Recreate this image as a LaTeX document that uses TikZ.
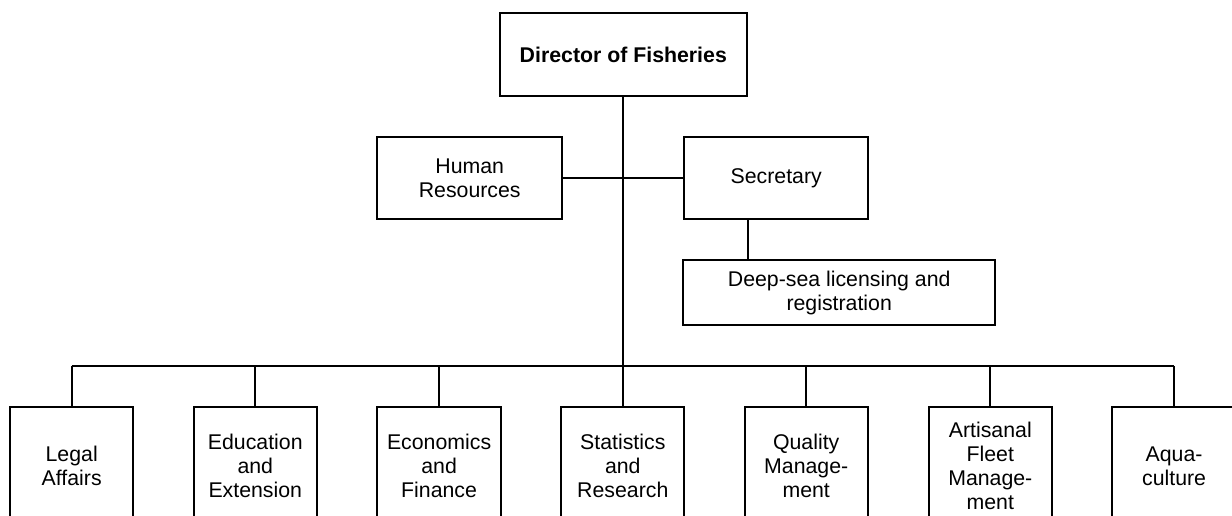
\documentclass[tikz,border=0pt]{standalone}
\usepackage{fontspec}
\setmainfont{Liberation Sans}
\begin{document}
\begin{tikzpicture}[x=1pt,y=-1pt,
  box/.style={draw, line width=2pt, inner sep=0pt, align=center,
    font=\fontsize{21.3}{24}\selectfont},
  lowbox/.style={box, minimum width=123.3pt, minimum height=118.3pt},
  link/.style={line width=2pt}]
\useasboundingbox (0,0) rectangle (1232,516);
\clip (0,0) rectangle (1232,516);
\node[box, minimum width=246.4pt, minimum height=82.7pt, font=\fontsize{21.3}{24}\selectfont\bfseries] (dir) at (623.3,54.7) {Director of Fisheries};
\node[box, minimum width=184.7pt, minimum height=81.6pt] (hr) at (469.7,177.8) {Human\\Resources};
\node[box, minimum width=184.3pt, minimum height=82.3pt] (sec) at (776.2,177.8) {Secretary};
\node[box, minimum width=311.7pt, minimum height=65pt] (deep) at (839.2,292.5) {Deep-sea licensing and\\registration};
\coordinate (bus) at (623.3,365.7);
\node[lowbox] (b1) at (71.7,465.8) {Legal\\Affairs};
\node[lowbox] (b2) at (255.3,465.8) {Education\\and\\Extension};
\node[lowbox] (b3) at (439.1,465.8) {Economics\\and\\Finance};
\node[lowbox] (b4) at (622.8,465.8) {Statistics\\and\\Research};
\node[lowbox] (b5) at (806.2,465.8) {Quality\\Manage-\\ment};
\node[lowbox] (b6) at (990.3,465.8) {Artisanal\\Fleet\\Manage-\\ment};
\node[lowbox] (b7) at (1174.1,465.8) {Aqua-\\culture};
\draw[link] (dir.south) -- (bus);
\draw[link] (hr.east) -- (sec.west);
\draw[link] (dir.south east |- sec.south) -- (dir.south east |- deep.north);
\draw[link] (b1.north |- bus) -- (b7.north |- bus);
\foreach \i in {1,...,7} {\draw[link] (b\i.north) -- (b\i.north |- bus);}
\end{tikzpicture}
\end{document}
